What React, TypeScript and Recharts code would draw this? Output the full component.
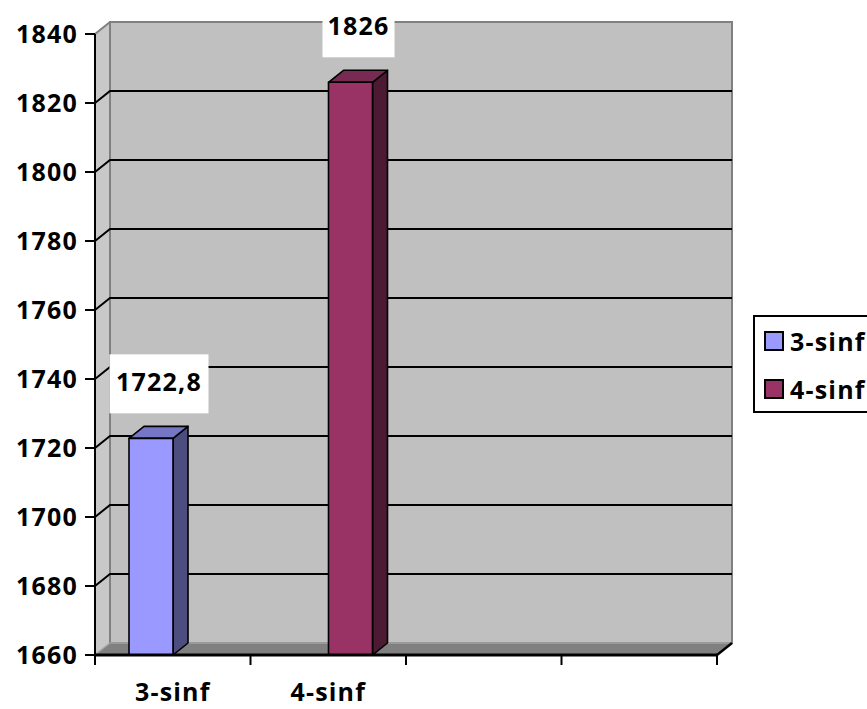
import React from 'react';
import {
  BarChart,
  Bar,
  XAxis,
  YAxis,
  ReferenceArea,
  ReferenceLine,
  Legend,
  LabelList,
} from 'recharts';

// Category slots along the x axis (only the first two are labelled)
const categories = ['3-sinf', '4-sinf', ' ', '  '];
// Series values per category slot
const sinf3Values: (number | null)[] = [1722.8, null, null, null];
const sinf4Values: (number | null)[] = [null, 1826, null, null];
const seriesNames = ['3-sinf', '4-sinf'];
// Value axis ticks
const yTicks = [1660, 1680, 1700, 1720, 1740, 1760, 1780, 1800, 1820, 1840];

const data = categories.map((name, i) => ({
  name,
  s3: sinf3Values[i],
  s4: sinf4Values[i],
}));

const FONT = "'Open Sans', sans-serif";
const DX = 15; // depth offset to the right
const DY = 12; // depth offset upwards

const palette = {
  s3: { front: '#9999FF', top: '#7676C6', side: '#4D4D80' },
  s4: { front: '#993366', top: '#782A52', side: '#4D1A33' },
};

const textStyle = {
  fontFamily: FONT,
  fontWeight: 700,
  fontSize: 25,
  fill: '#000',
  letterSpacing: 1.2,
};

const make3DBar = (c: { front: string; top: string; side: string }) => (props: any) => {
  const x = Number(props.x);
  const y = Number(props.y);
  const w = Number(props.width);
  const h = Number(props.height);
  if (!(h > 0) || !(w > 0)) return null;
  return (
    <g stroke="#000" strokeWidth={1.6} strokeLinejoin="round">
      <polygon
        points={`${x + w},${y} ${x + w + DX},${y - DY} ${x + w + DX},${y + h - DY} ${x + w},${y + h}`}
        fill={c.side}
      />
      <polygon
        points={`${x},${y} ${x + DX},${y - DY} ${x + w + DX},${y - DY} ${x + w},${y}`}
        fill={c.top}
      />
      <rect x={x} y={y} width={w} height={h} fill={c.front} />
    </g>
  );
};

const renderValueLabel = (props: any) => {
  const { value } = props;
  if (value === null || value === undefined) return null;
  const x = Number(props.x);
  const y = Number(props.y);
  const w = Number(props.width);
  const text = String(value).replace('.', ',');
  const boxW = text.length * 13.5 + 18;
  const boxH = 59;
  const cx = x + w / 2 + 8;
  const bottom = y - 25;
  return (
    <g>
      <rect x={cx - boxW / 2} y={bottom - boxH} width={boxW} height={boxH} fill="#fff" />
      <text
        x={cx}
        y={bottom - 22}
        textAnchor="middle"
        fontFamily={FONT}
        fontWeight={700}
        fontSize={25}
        letterSpacing={1.2}
        fill="#000"
      >
        {text}
      </text>
    </g>
  );
};

// Category tick: marks at the slot edges and the category name centred in the slot
const CategoryTick = (props: any) => {
  const x = Number(props.x);
  const y = Number(props.y);
  const half = Number(props.payload?.offset ?? 0);
  const isLast = props.index === (props.visibleTicksCount ?? categories.length) - 1;
  return (
    <g>
      <line x1={x - half} y1={y} x2={x - half} y2={y + 10} stroke="#000" strokeWidth={2} />
      {isLast && (
        <line x1={x + half} y1={y} x2={x + half} y2={y + 10} stroke="#000" strokeWidth={2} />
      )}
      <text x={x} y={y + 46} textAnchor="middle" {...textStyle}>
        {props.payload?.value}
      </text>
    </g>
  );
};

// Back wall, side wall and floor of the 3D frame
const renderWalls = (props: any) => {
  const x = Number(props.x);
  const y = Number(props.y);
  const w = Number(props.width);
  const h = Number(props.height);
  return (
    <g>
      <polygon
        points={`${x},${y} ${x + DX},${y - DY} ${x + DX},${y + h - DY} ${x},${y + h}`}
        fill="#C8C8C8"
      />
      <rect x={x + DX} y={y - DY} width={w} height={h} fill="#C0C0C0" stroke="#808080" strokeWidth={2} />
      <line x1={x} y1={y} x2={x + DX} y2={y - DY} stroke="#808080" strokeWidth={2} />
      <polygon
        points={`${x},${y + h} ${x + DX},${y + h - DY} ${x + w + DX},${y + h - DY} ${x + w},${y + h}`}
        fill="#808080"
      />
      <line x1={x + DX} y1={y + h - DY} x2={x + w + DX} y2={y + h - DY} stroke="#9A9A9A" strokeWidth={2} />
      <line x1={x} y1={y + h} x2={x + DX} y2={y + h - DY} stroke="#A0A0A0" strokeWidth={1.5} />
      <line x1={x + w} y1={y + h} x2={x + w + DX} y2={y + h - DY} stroke="#000" strokeWidth={2.5} />
    </g>
  );
};

// Gridline: short diagonal across the side wall, then along the back wall
const renderGridLine = (props: any) => {
  const x1 = Number(props.x1);
  const x2 = Number(props.x2);
  const y = Number(props.y1);
  return (
    <polyline
      points={`${x1},${y} ${x1 + DX},${y - DY} ${x2 + DX},${y - DY}`}
      fill="none"
      stroke="#000"
      strokeWidth={2}
    />
  );
};

const renderLegend = (props: any) => {
  const payload = props.payload ?? [];
  return (
    <div
      style={{
        boxSizing: 'border-box',
        width: 140,
        height: 98,
        border: '2px solid #000',
        background: '#fff',
        paddingLeft: 9,
      }}
    >
      {payload.map((entry: any, i: number) => (
        <div
          key={i}
          style={{ display: 'flex', alignItems: 'center', height: 48, whiteSpace: 'nowrap' }}
        >
          <span
            style={{
              display: 'inline-block',
              boxSizing: 'border-box',
              width: 20,
              height: 20,
              border: '2px solid #000',
              background: entry.color,
            }}
          />
          <span
            style={{
              marginLeft: 6,
              fontFamily: FONT,
              fontWeight: 700,
              fontSize: 25,
              letterSpacing: 1.2,
              lineHeight: 1,
              color: '#000',
            }}
          >
            {entry.value}
          </span>
        </div>
      ))}
    </div>
  );
};

export default function App() {
  return (
    <div
      style={{
        position: 'absolute',
        left: 0,
        top: 0,
        width: 867,
        height: 709,
        overflow: 'hidden',
        background: '#fff',
      }}
    >
      <BarChart
        width={867}
        height={709}
        data={data}
        margin={{ top: 34, right: 150, bottom: 0, left: 15 }}
        barGap={0}
        barSize={44}
      >
        <XAxis
          dataKey="name"
          height={54}
          interval={0}
          tickSize={0}
          tickMargin={0}
          tickLine={false}
          tick={<CategoryTick />}
          axisLine={{ stroke: '#000', strokeWidth: 3 }}
        />
        <YAxis
          domain={[1660, 1840]}
          ticks={yTicks}
          allowDataOverflow
          interval={0}
          width={80}
          tickSize={10}
          tickMargin={7}
          axisLine={{ stroke: '#000', strokeWidth: 2 }}
          tickLine={{ stroke: '#000', strokeWidth: 2 }}
          tick={textStyle}
        />
        <ReferenceArea y1={1660} y2={1840} shape={renderWalls} zIndex={-200} />
        {yTicks.slice(1, -1).map((v) => (
          <ReferenceLine key={v} y={v} shape={renderGridLine} zIndex={-150} />
        ))}
        <Bar
          dataKey="s3"
          name={seriesNames[0]}
          fill={palette.s3.front}
          shape={make3DBar(palette.s3)}
          isAnimationActive={false}
        >
          <LabelList dataKey="s3" content={renderValueLabel} />
        </Bar>
        <Bar
          dataKey="s4"
          name={seriesNames[1]}
          fill={palette.s4.front}
          shape={make3DBar(palette.s4)}
          isAnimationActive={false}
        >
          <LabelList dataKey="s4" content={renderValueLabel} />
        </Bar>
        <Legend
          layout="horizontal"
          verticalAlign="middle"
          align="center"
          content={renderLegend}
          wrapperStyle={{ left: 753, top: 315, width: 140 }}
        />
      </BarChart>
    </div>
  );
}
